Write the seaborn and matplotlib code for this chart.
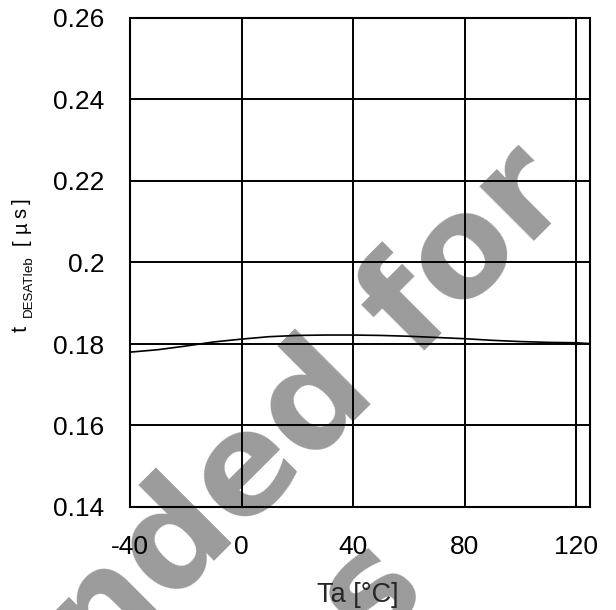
import matplotlib
matplotlib.use("Agg")
import matplotlib.pyplot as plt
import seaborn as sns
import pandas as pd

# ---- data ----
temp_c = [-40, -30, -20, -10, 0, 10, 20, 30, 40, 50, 60, 70, 80, 90, 100, 110, 120, 125]
t_desat_us = [0.1780, 0.1786, 0.1795, 0.1805, 0.1812, 0.1818, 0.1821, 0.1822, 0.1822,
              0.1821, 0.1819, 0.1816, 0.1813, 0.1809, 0.1806, 0.1804, 0.1803, 0.1801]
x_ticks = [-40, 0, 40, 80, 120]
y_ticks = [0.14, 0.16, 0.18, 0.20, 0.22, 0.24, 0.26]
y_tick_labels = ["0.14", "0.16", "0.18", "0.2", "0.22", "0.24", "0.26"]
x_label = "Ta [°C]"
watermark_lines = ["Not Recommended for", "New Designs"]

df = pd.DataFrame({"Ta": temp_c, "t": t_desat_us})

sns.set_style("white")
plt.rcParams["font.family"] = ["Liberation Sans", "DejaVu Sans"]

W, H = 616, 610
fig = plt.figure(figsize=(W / 100, H / 100), dpi=100)
fig.patch.set_facecolor("white")

def fx(px):
    return px / W

def fy(py):
    return 1 - py / H

ax = fig.add_axes([fx(130), fy(507), (590 - 130) / W, (507 - 18) / H])
ax.patch.set_alpha(0)

sns.lineplot(data=df, x="Ta", y="t", color="black", linewidth=1.2, ax=ax, zorder=3)

ax.set_xlim(-40, 125)
ax.set_ylim(0.14, 0.26)
ax.set_xticks(x_ticks)
ax.set_xticklabels([str(v) for v in x_ticks])
ax.set_yticks(y_ticks)
ax.set_yticklabels(y_tick_labels)
ax.tick_params(axis="both", length=0, labelsize=19, colors="black")
ax.tick_params(axis="x", pad=20)
ax.tick_params(axis="y", pad=18.5)
ax.grid(True, color="black", linewidth=1.4)
ax.set_axisbelow(False)
for s in ax.spines.values():
    s.set_visible(True)
    s.set_color("black")
    s.set_linewidth(1.5)

ax.set_xlabel(x_label, fontsize=19.5, va="baseline")
ax.xaxis.set_label_coords((358 - 130) / 460, (507 - 602) / 489)
ax.set_ylabel("")

# y label built from pieces: t, subscript, [µs]
fig.text(fx(27), fy(329.5), "t", rotation=90, rotation_mode="anchor",
         ha="center", va="baseline", fontsize=15.5, color="black")
fig.text(fx(32), fy(317), "DESATIeb", rotation=90, rotation_mode="anchor",
         ha="left", va="baseline", fontsize=9.5, color="black")
for ch, yc in zip(["[", "µ", "s", "]"], [241.7, 227.5, 212.5, 201]):
    fig.text(fx(26.5), fy(yc), ch, rotation=90, rotation_mode="anchor",
             ha="center", va="baseline", fontsize=14.5, color="black")

# watermark behind everything
wm_style = dict(rotation=45, rotation_mode="anchor", ha="right", va="baseline",
                fontsize=101.5, fontweight="bold", family="DejaVu Sans",
                color="#9b9b9b", zorder=-5)
fig.text(fx(575), fy(200), watermark_lines[0], **wm_style)
fig.text(fx(430), fy(592), watermark_lines[1], **wm_style)

fig.savefig("out.png", dpi=100)
